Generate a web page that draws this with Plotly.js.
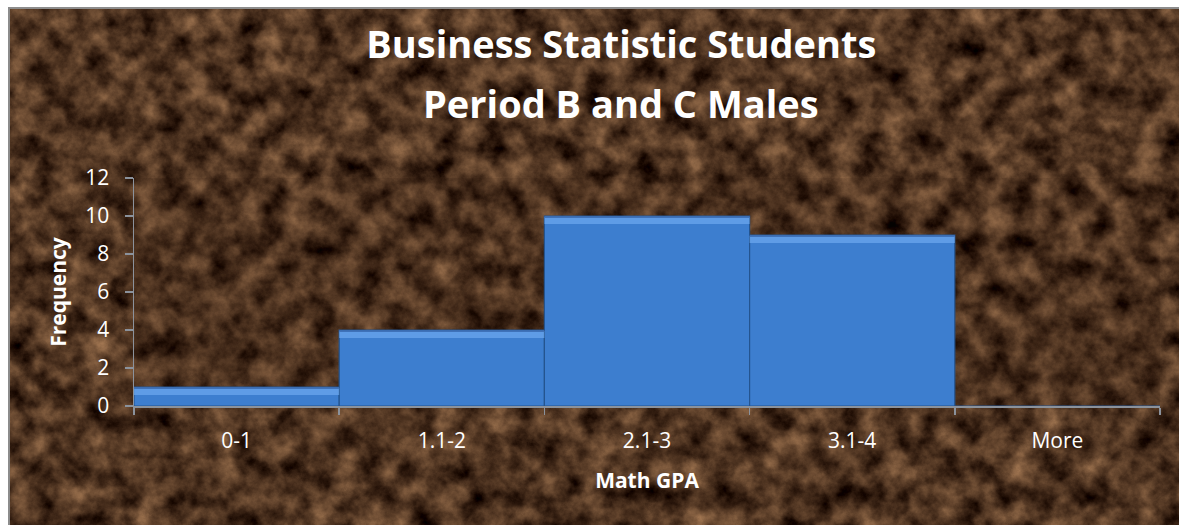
<!DOCTYPE html>
<html>
<head>
<meta charset="utf-8">
<script src="https://cdn.plot.ly/plotly-3.0.1.min.js"></script>
<style>
  html, body { margin: 0; padding: 0; background: #ffffff; }
  #wrap { position: relative; width: 1179px; height: 525px; overflow: hidden; background: #ffffff; }
  #bg { position: absolute; left: 8px; top: 7px; width: 1171px; height: 518px;
        border-left: 2px solid #8c8c8c; border-top: 2px solid #8c8c8c; box-sizing: border-box; overflow: hidden; }
  #bg svg { display: block; }
  #chart { position: absolute; left: 0; top: 0; width: 1179px; height: 525px; }
</style>
</head>
<body>
<div id="wrap">
  <div id="bg">
    <svg width="1171" height="518" xmlns="http://www.w3.org/2000/svg">
      <filter id="marble" x="0" y="0" width="100%" height="100%" color-interpolation-filters="sRGB">
        <feTurbulence type="fractalNoise" baseFrequency="0.04" numOctaves="6" seed="7" result="n"/>
        <feColorMatrix in="n" type="matrix"
          values="0.75 0 0 0 -0.065
                  0.60 0 0 0 -0.095
                  0.44 0 0 0 -0.09
                  0 0 0 0 1"/>
      </filter>
      <rect x="0" y="0" width="1171" height="518" filter="url(#marble)"/>
    </svg>
  </div>
  <div id="chart"></div>
</div>
<script>
// ---- data ----
const categories = ["0-1", "1.1-2", "2.1-3", "3.1-4", "More"];
const frequency = [1, 4, 10, 9, 0];
const yTickValues = [0, 2, 4, 6, 8, 10, 12];
const titleLine1 = "Business Statistic Students";
const titleLine2 = "Period B and C Males";
const xTitle = "Math GPA";
const yTitle = "Frequency";

const FONT = "Open Sans, Noto Sans, sans-serif";
const axisGrey = "#8b929c";

// bevel highlight strips derived from the data through the axis scale
const shapes = [];
frequency.forEach((v, i) => {
  if (v <= 0) return;
  shapes.push({
    type: "rect", xref: "x", yref: "y", layer: "above",
    x0: i - 0.5, x1: i + 0.5,
    ysizemode: "pixel", yanchor: v, y0: -8, y1: -1,
    fillcolor: "rgba(110,170,240,0.7)", line: { width: 0 }
  });
  shapes.push({
    type: "rect", xref: "x", yref: "y", layer: "above",
    x0: i - 0.5, x1: i + 0.5,
    ysizemode: "pixel", yanchor: v, y0: -2, y1: 0,
    fillcolor: "rgba(60,110,180,0.9)", line: { width: 0 }
  });
});

const trace = {
  type: "bar",
  x: categories,
  y: frequency,
  marker: { color: "#3d7ecf", line: { color: "#24548f", width: 1.2 } },
  hoverinfo: "x+y"
};

const layout = {
  width: 1179, height: 525,
  paper_bgcolor: "rgba(0,0,0,0)",
  plot_bgcolor: "rgba(40,20,8,0.10)",
  margin: { l: 134, r: 19, t: 178, b: 119, pad: 0 },
  bargap: 0,
  showlegend: false,
  title: {
    text: titleLine1,
    font: { family: FONT, size: 38, color: "#ffffff", weight: 700 },
    xref: "container", yref: "container",
    x: 0.527, xanchor: "center",
    y: 1 - 45 / 525, yanchor: "middle"
  },
  annotations: [{
    text: titleLine2, showarrow: false,
    xref: "paper", yref: "paper",
    x: (621 - 134) / (1160 - 134), xanchor: "center",
    y: (406 - 103) / 228, yanchor: "middle",
    font: { family: FONT, size: 38, color: "#ffffff", weight: 700 }
  }],
  xaxis: {
    type: "category",
    showline: true, linecolor: axisGrey, linewidth: 1.5,
    ticks: "outside", tickson: "boundaries", ticklen: 7, tickcolor: axisGrey, tickwidth: 1.5,
    showgrid: false, zeroline: false,
    tickfont: { family: FONT, size: 21, color: "#ffffff" },
    ticklabelstandoff: 15,
    title: { text: xTitle, standoff: 20,
             font: { family: FONT, size: 21, color: "#ffffff", weight: 700 } }
  },
  yaxis: {
    range: [0, 12],
    tickvals: yTickValues,
    showline: true, linecolor: axisGrey, linewidth: 1.5,
    ticks: "outside", ticklen: 8, tickcolor: axisGrey, tickwidth: 1.5,
    showgrid: false, zeroline: false,
    tickfont: { family: FONT, size: 21, color: "#ffffff" },
    ticklabelstandoff: 11,
    title: { text: yTitle, standoff: 13,
             font: { family: FONT, size: 21, color: "#ffffff", weight: 700 } }
  },
  shapes: shapes
};

Plotly.newPlot("chart", [trace], layout, { displayModeBar: false, staticPlot: true });
</script>
</body>
</html>
